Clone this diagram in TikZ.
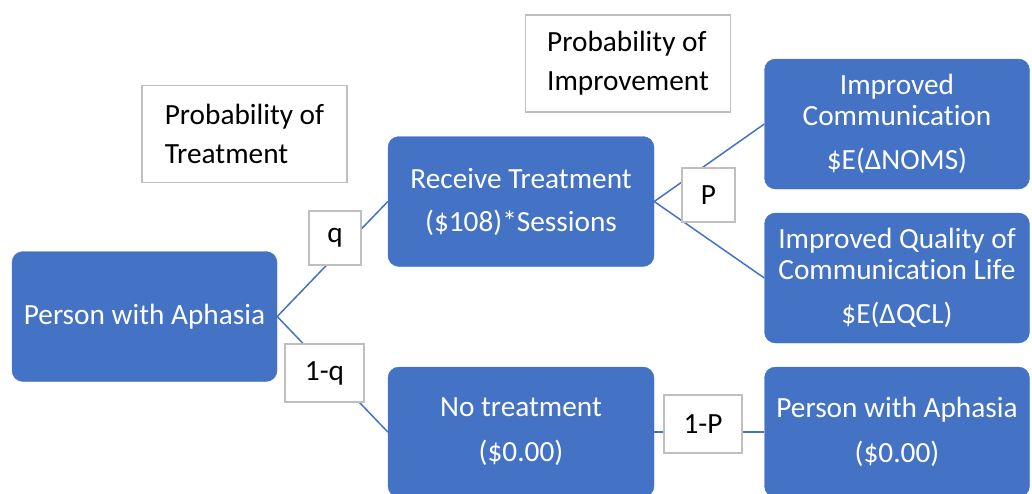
\documentclass[tikz,border=0pt]{standalone}
\usepackage{fontspec}
\setmainfont[Ligatures=NoCommon]{Carlito}
\usepackage{tikz}
\definecolor{boxblue}{HTML}{4472C4}
\definecolor{labgray}{HTML}{BFBFBF}
\tikzstyle{every node}=[font=\fontsize{29.3}{31}\selectfont]
\tikzstyle{stage}=[fill=boxblue, draw=boxblue, rounded corners=11pt, text=white, align=center, inner sep=0pt, minimum width=265pt, minimum height=130pt]
\tikzstyle{prob}=[fill=white, draw=labgray, line width=1.2pt, inner sep=0pt]
\tikzstyle{heading}=[prob, align=left, minimum width=205pt, minimum height=97pt]
\tikzstyle{branch}=[draw=boxblue, line width=1.5pt]

\begin{document}
\begin{tikzpicture}[x=1pt, y=-1pt]
                \useasboundingbox (0, 0) rectangle (1032, 493);
                % decision tree
                \node (patient) at (144.5, 316.5) [stage] {Person with Aphasia};
                \node (treat) at (521, 201.5) [stage, minimum width=266pt] {Receive Treatment\\[12pt](\$108)*Sessions};
                \node (notreat) at (521, 432) [stage, minimum width=266pt] {No treatment\\[14pt](\$0.00)};
                \node (comm) at (897, 124) [stage] {Improved\\Communication\\[13pt]\$E(ΔNOMS)};
                \node (qcl) at (897, 278) [stage] {Improved Quality of\\Communication Life\\[13pt]\$E(ΔQCL)};
                \node (same) at (897, 432) [stage] {Person with Aphasia\\[14pt](\$0.00)};
                \draw [branch] (patient.east) -- (treat.west);
                \draw [branch] (patient.east) -- (notreat.west);
                \draw [branch] (treat.east) -- (comm.west);
                \draw [branch] (treat.east) -- (qcl.west);
                \draw [branch] (notreat.east) -- (same.west);
                % probabilities
                \node (q) at (335, 238) [prob, minimum width=52pt, minimum height=54pt] {q};
                \node (notq) at (324.5, 373) [prob, minimum width=79pt, minimum height=58pt] {1-q};
                \node (p) at (708.5, 195) [prob, minimum width=53pt, minimum height=54pt] {P};
                \node (notp) at (703, 424) [prob, minimum width=78pt, minimum height=58pt] {1-P};
                \node (probtreat) at (244.5, 134) [heading] {Probability of\\[8pt]Treatment};
                \node (probimp) at (628, 63.5) [heading] {Probability of\\[8pt]Improvement};
            \end{tikzpicture}
\end{document}
